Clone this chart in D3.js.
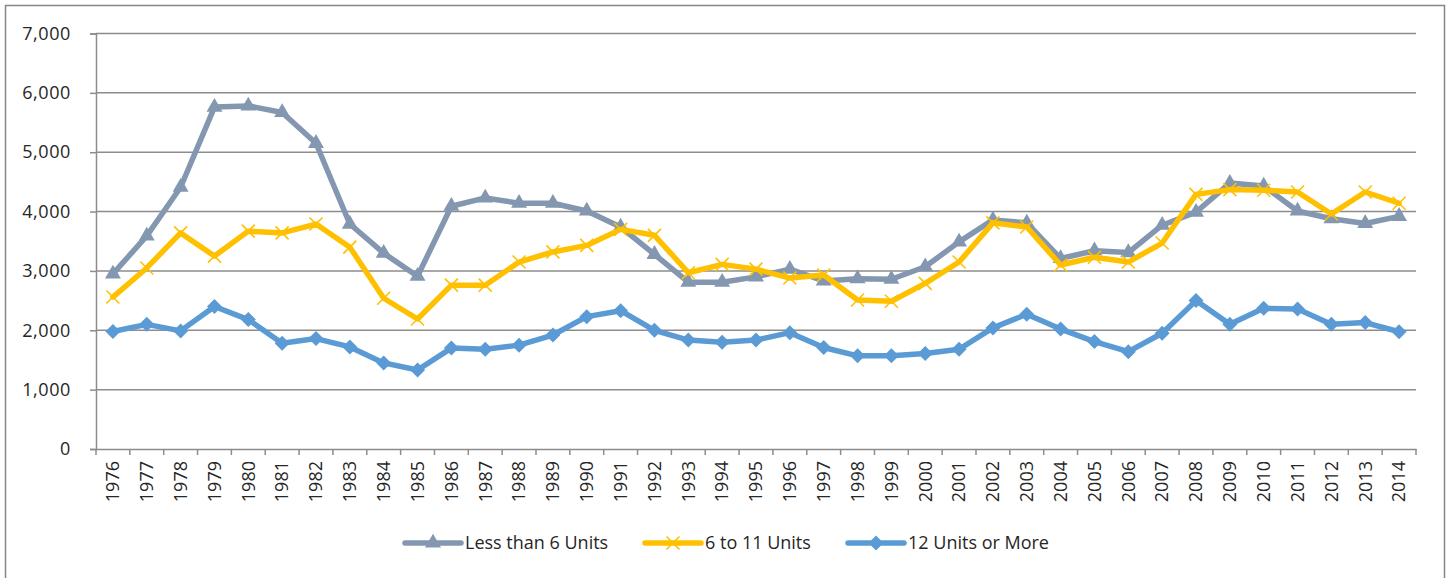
<!DOCTYPE html>
<html><head><meta charset="utf-8">
<script src="https://cdn.jsdelivr.net/npm/d3@7"></script>
<style>body{margin:0;background:#fff}svg{display:block}text{font-family:"Open Sans",sans-serif;fill:#262626}</style>
</head><body>
<svg id="c" width="1449" height="578"></svg>
<script>
const years = d3.range(1976, 2015).map(String);
const seriesNames = ["Less than 6 Units", "6 to 11 Units", "12 Units or More"];
const lessThan6 = [2950,3590,4410,5760,5780,5670,5150,3790,3300,2910,4090,4230,4140,4140,4010,3740,3280,2810,2810,2900,3030,2830,2870,2860,3070,3490,3860,3810,3210,3340,3310,3770,3990,4480,4430,4010,3880,3800,3920];
const sixTo11 = [2560,3050,3640,3250,3670,3640,3790,3400,2540,2190,2760,2760,3150,3320,3430,3700,3600,2970,3110,3030,2880,2930,2510,2490,2790,3150,3810,3740,3100,3230,3150,3470,4290,4370,4360,4330,3960,4330,4140];
const twelvePlus = [1980,2100,1990,2400,2180,1780,1860,1720,1450,1330,1700,1680,1750,1920,2230,2330,2000,1835,1800,1835,1960,1710,1570,1570,1610,1680,2040,2270,2020,1810,1640,1950,2500,2100,2370,2360,2100,2130,1975];
const yTicks = [0,1000,2000,3000,4000,5000,6000,7000];
const colors = ["#8497B0", "#FFC000", "#5B9BD5"];
const markers = ["triangle", "x", "diamond"];

const svg = d3.select("#c");
svg.append("rect").attr("x",5.5).attr("y",5.5).attr("width",1439).attr("height",580)
  .attr("fill","none").attr("stroke","#868686").attr("stroke-width",1.5);

const L = 96, R = 1416, T = 33.5, B = 449;
const x = d3.scaleBand().domain(years).range([L, R]);
const y = d3.scaleLinear().domain([0, 7000]).range([B, T]);

// gridlines
svg.append("g").selectAll("line").data(yTicks.slice(1)).join("line")
  .attr("x1", L).attr("x2", R).attr("y1", d=>y(d)).attr("y2", d=>y(d))
  .attr("stroke","#8c8c8c").attr("stroke-width",1.5);

// y axis
const ya = svg.append("g").attr("transform",`translate(${L},0)`)
  .call(d3.axisLeft(y).tickValues(yTicks).tickFormat(d3.format(",")).tickSize(6).tickPadding(19));
ya.select(".domain").attr("stroke","#8c8c8c").attr("stroke-width",1.5);
ya.selectAll(".tick line").attr("stroke","#8c8c8c").attr("stroke-width",1.5);
ya.selectAll("text").attr("font-size","18px").attr("fill","#262626").attr("font-family","Open Sans")
  .attr("letter-spacing","0.6px");

// x axis
const xa = svg.append("g").attr("transform",`translate(0,${B})`)
  .call(d3.axisBottom(x).tickSize(0).tickSizeOuter(0));
xa.select(".domain").attr("stroke","#8c8c8c").attr("stroke-width",1.5);
xa.selectAll(".tick line").remove();
xa.selectAll(".tick text").attr("font-size","18px").attr("fill","#262626").attr("font-family","Open Sans")
  .attr("transform","rotate(-90)").attr("text-anchor","end").attr("x",-12).attr("y",0).attr("dy","0.35em");
// band-boundary ticks
const bounds = years.map(d=>x(d)).concat([R]);
svg.append("g").selectAll("line").data(bounds).join("line")
  .attr("x1",d=>d).attr("x2",d=>d).attr("y1",B).attr("y2",B+6)
  .attr("stroke","#8c8c8c").attr("stroke-width",1.5);

const cx = d => x(d) + x.bandwidth()/2;
const allSeries = [lessThan6, sixTo11, twelvePlus];
const line = d3.line().x((d,i)=>cx(years[i])).y(d=>y(d));

function drawMarker(g, type, color, px, py) {
  if (type === "triangle") {
    g.append("path").attr("d", d3.symbol(d3.symbolTriangle, 110)()).attr("transform",`translate(${px},${py})`).attr("fill",color);
  } else if (type === "diamond") {
    g.append("path").attr("d", `M0,-7.5L7.5,0L0,7.5L-7.5,0Z`).attr("transform",`translate(${px},${py})`).attr("fill",color);
  } else {
    g.append("path").attr("d", `M-6.5,-6.5L6.5,6.5M-6.5,6.5L6.5,-6.5`).attr("transform",`translate(${px},${py})`).attr("stroke",color).attr("stroke-width",1.6).attr("fill","none");
  }
}

allSeries.forEach((vals, si) => {
  const g = svg.append("g");
  g.append("path").datum(vals).attr("d", line).attr("fill","none")
    .attr("stroke", colors[si]).attr("stroke-width",5.5).attr("stroke-linejoin","round").attr("stroke-linecap","round");
  vals.forEach((v,i) => drawMarker(g, markers[si], colors[si], cx(years[i]), y(v)));
});

// legend
const legX = [405, 645, 848];
seriesNames.forEach((n, si) => {
  const g = svg.append("g");
  const ly = 543;
  g.append("line").attr("x1",legX[si]).attr("x2",legX[si]+56).attr("y1",ly).attr("y2",ly)
    .attr("stroke",colors[si]).attr("stroke-width",5.5).attr("stroke-linecap","round");
  drawMarker(g, markers[si], colors[si], legX[si]+28, ly);
  g.append("text").attr("x",legX[si]+60).attr("y",ly).attr("dy","0.35em")
    .attr("font-size","18px").text(n);
});
</script>
</body></html>
